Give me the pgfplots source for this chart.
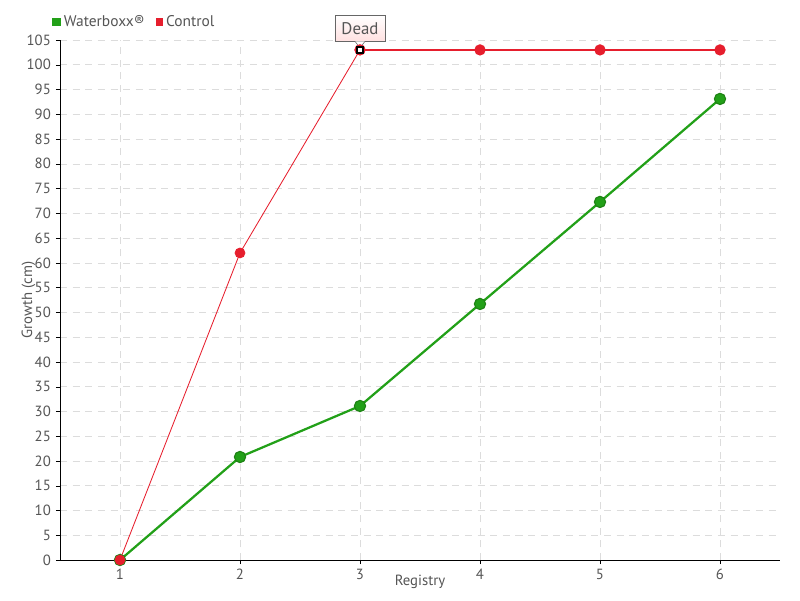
\documentclass[border=0pt]{standalone}
\usepackage{fontspec}
\setmainfont{PT Sans}
\usepackage{pgfplots}
\pgfplotsset{compat=1.18}
\definecolor{wgreen}{RGB}{34,160,24}
\definecolor{wgreendk}{RGB}{30,130,20}
\definecolor{ctrlred}{RGB}{230,30,45}
\definecolor{txtgray}{RGB}{85,85,85}
\definecolor{gridgray}{RGB}{220,220,220}
\begin{document}
\begin{tikzpicture}
\path[use as bounding box] (-1.5cm,-1cm) rectangle (18.5cm,14cm);
\begin{axis}[scale only axis,width=18cm,height=13cm,
  at={(0,0)},anchor=south west,
  xmin=0.5,xmax=6.5,ymin=0,ymax=105,
  xtick={1,...,6},ytick={0,5,...,105},
  axis x line*=bottom,axis y line*=left,
  axis line style={black,-},
  tick align=outside,major tick length=3pt,
  tick style={black},
  grid=major,major grid style={gridgray,dashed,dash pattern=on 5pt off 4pt},
  every tick label/.append style={font=\fontsize{10.5}{12}\selectfont,text=txtgray},
  /pgf/number format/assume math mode=true,
  xlabel={Registry},ylabel={Growth (cm)},
  label style={font=\fontsize{10.5}{12}\selectfont,text=txtgray},
  xlabel style={yshift=10pt},ylabel style={yshift=-13pt},
  legend style={at={(-0.3cm,13.45cm)},anchor=west,draw=none,fill=none,
    legend columns=2,font=\fontsize{11}{13}\selectfont,text=txtgray,
    /tikz/every even column/.append style={column sep=6pt}},
  legend image code/.code={\fill[#1] (0.05cm,-0.08cm) rectangle (0.21cm,0.08cm);},
  clip=false]
\addplot[wgreen,line width=1.6pt,mark=*,mark size=4pt,
  mark options={fill=wgreen,draw=wgreendk,line width=0.8pt}] coordinates {
(1,0) (2,20.8) (3,31.1) (4,51.7) (5,72.3) (6,93.1)};
\addlegendentry{Waterboxx®}
\addplot[color=ctrlred,line width=0.6pt,mark=*,mark size=3.5pt,
  mark options={fill=ctrlred,draw=ctrlred}] coordinates {
(1,0) (2,62.0) (3,103)};
\addlegendentry{Control}
\addplot[color=ctrlred,draw=ctrlred,line width=1pt,mark=*,mark size=3.5pt,
  mark options={fill=ctrlred,draw=ctrlred},forget plot] coordinates {
(3,103) (4,103) (5,103) (6,103)};
\addplot[only marks,mark=square*,mark size=2.2pt,
  mark options={fill=white,draw=black,line width=1pt},forget plot] coordinates {(3,103)};
\node[draw=gray!80!black,top color=white,bottom color=red!12,
  font=\large,text=txtgray,minimum width=1.25cm,minimum height=0.65cm,
  anchor=south] (dead) at (axis cs:3,103) [yshift=6pt] {Dead};
\fill[white] ([xshift=-3.5pt]dead.south) -- ([xshift=3.5pt]dead.south) -- ([yshift=-4.5pt]dead.south) -- cycle;
\draw[gray!80!black] ([xshift=-3.5pt]dead.south) -- ([yshift=-4.5pt]dead.south) -- ([xshift=3.5pt]dead.south);
\end{axis}
\end{tikzpicture}
\end{document}
